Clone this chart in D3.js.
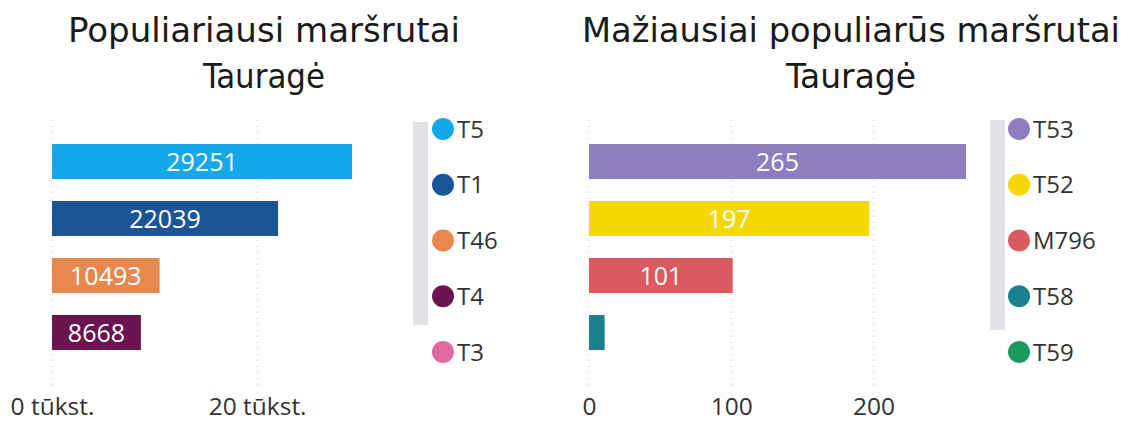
<!DOCTYPE html>
<html>
<head>
<meta charset="utf-8">
<script src="https://cdn.jsdelivr.net/npm/d3@7"></script>
<style>
  body { margin: 0; background: #fff; }
  svg { display: block; }
</style>
</head>
<body>
<div id="chart"></div>
<script>
(function() {

  // duomenys
  const topRoutes = ['T5', 'T1', 'T46', 'T4'];
  const topValues = [29251, 22039, 10493, 8668];
  const topLegend = ['T5', 'T1', 'T46', 'T4', 'T3'];
  const topTicks = [0, 20000];
  const topTickLabels = ['0 tūkst.', '20 tūkst.'];

  const lowRoutes = ['T53', 'T52', 'M796', 'T58'];
  const lowValues = [265, 197, 101, 11];
  const lowLegend = ['T53', 'T52', 'M796', 'T58', 'T59'];
  const lowTicks = [0, 100, 200];
  const lowTickLabels = ['0', '100', '200'];

  const colors = {
    T5: '#14a8e8', T1: '#1b5598', T46: '#e8884f', T4: '#6c1450', T3: '#df6aa2',
    T53: '#8c7ebf', T52: '#f4d800', M796: '#db5a5f', T58: '#19808e', T59: '#1b9a5e'
  };

  const size = { x: 1133, y: 424 };

  let svg = d3.select('#chart')
    .append('svg')
    .attr('width', size.x)
    .attr('height', size.y);

  const panels = [
    {
      title: ['Populiariausi maršrutai', 'Tauragė'],
      titleX: 264, titleW: [392, 122],
      routes: topRoutes, values: topValues, legend: topLegend,
      ticks: topTicks, tickLabels: topTickLabels,
      xRange: [52, 352], legendX: 443, scrollX: 413, scrollY: [122, 325]
    },
    {
      title: ['Mažiausiai populiarūs maršrutai', 'Tauragė'],
      titleX: 851, titleW: [538, 130],
      routes: lowRoutes, values: lowValues, legend: lowLegend,
      ticks: lowTicks, tickLabels: lowTickLabels,
      xRange: [589, 966], legendX: 1019, scrollX: 990, scrollY: [120, 330]
    }
  ];

  panels.forEach(p => {
    let g = svg.append('g');

    // antraštė
    p.title.forEach((t, i) => {
      g.append('text')
        .attr('x', p.titleX)
        .attr('y', 42 + i * 46)
        .attr('text-anchor', 'middle')
        .attr('font-family', "'DejaVu Sans Condensed', 'DejaVu Sans', sans-serif")
        .attr('font-stretch', 'condensed')
        .attr('font-size', 34)
        .attr('fill', '#1a1a1a')
        .attr('textLength', p.titleW[i])
        .attr('lengthAdjust', 'spacingAndGlyphs')
        .text(t);
    });

    let xScale = d3.scaleLinear()
      .domain([0, d3.max(p.values)])
      .range(p.xRange);

    let yScale = d3.scaleBand()
      .domain(p.routes)
      .range([133, 361])
      .paddingInner(0.386)
      .paddingOuter(0.193);

    // tinklelis
    g.selectAll('.grid')
      .data(p.ticks)
      .enter()
      .append('line')
        .attr('x1', d => xScale(d))
        .attr('x2', d => xScale(d))
        .attr('y1', 120)
        .attr('y2', 390)
        .attr('stroke', '#c8c8c8')
        .attr('stroke-width', 1)
        .attr('stroke-dasharray', '1,5');

    // ašis
    let axis = d3.axisBottom(xScale)
      .tickValues(p.ticks)
      .tickFormat((d, i) => p.tickLabels[i])
      .tickSize(0);
    let axisG = g.append('g')
      .attr('transform', 'translate(0, 395)')
      .call(axis);
    axisG.select('.domain').remove();
    axisG.selectAll('text')
      .attr('font-family', "'Open Sans', sans-serif")
      .attr('font-size', 24.5)
      .attr('fill', '#333');

    // stulpeliai
    let rows = p.routes.map((r, i) => ({ route: r, value: p.values[i] }));
    g.selectAll('.bar')
      .data(rows)
      .enter()
      .append('rect')
        .attr('x', xScale(0))
        .attr('y', d => yScale(d.route))
        .attr('width', d => xScale(d.value) - xScale(0))
        .attr('height', yScale.bandwidth())
        .attr('fill', d => colors[d.route]);

    g.selectAll('.bar-label')
      .data(rows.filter(d => xScale(d.value) - xScale(0) > 60))
      .enter()
      .append('text')
        .attr('x', d => (xScale(0) + xScale(d.value)) / 2)
        .attr('y', d => yScale(d.route) + yScale.bandwidth() / 2)
        .attr('dy', '0.36em')
        .attr('text-anchor', 'middle')
        .attr('font-family', "'Open Sans', sans-serif")
        .attr('font-size', 25)
        .attr('fill', '#fff')
        .text(d => d.value);

    // legenda
    g.append('rect')
      .attr('x', p.scrollX)
      .attr('y', p.scrollY[0])
      .attr('width', 15)
      .attr('height', p.scrollY[1] - p.scrollY[0])
      .attr('fill', '#e1e2e8');

    let legendY = d3.scalePoint()
      .domain(p.legend)
      .range([129, 352]);

    let items = g.selectAll('.legend-item')
      .data(p.legend)
      .enter()
      .append('g')
        .attr('transform', d => `translate(${p.legendX}, ${legendY(d)})`);
    items.append('circle')
      .attr('r', 11)
      .attr('fill', d => colors[d]);
    items.append('text')
      .attr('x', 14)
      .attr('dy', '0.36em')
      .attr('font-family', "'Open Sans', sans-serif")
      .attr('font-size', 24)
      .attr('fill', '#333')
      .text(d => d);
  });
}());
</script>
</body>
</html>
